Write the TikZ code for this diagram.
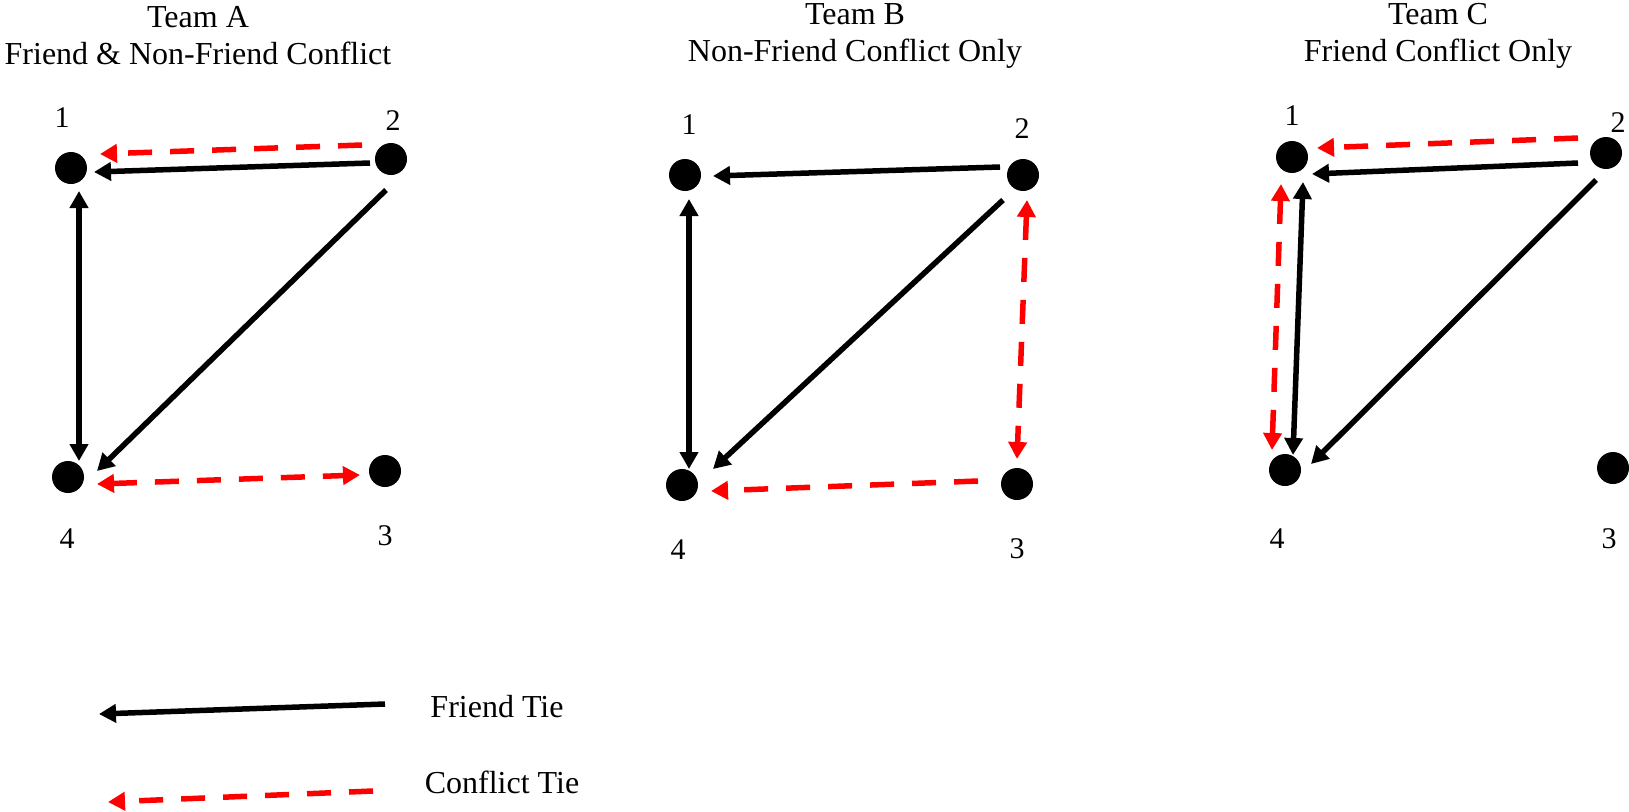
\documentclass[tikz,border=0pt]{standalone}
\usepackage{fontspec}
\setmainfont{Liberation Serif}
\usetikzlibrary{arrows.meta,shapes.geometric}
\begin{document}
\begin{tikzpicture}[x=1pt,y=-1pt,
  dot/.style={circle,fill=black,minimum size=32pt,inner sep=0pt},
  lbl/.style={font=\fontsize{30}{34}\selectfont,inner sep=0pt},
  ttl/.style={font=\fontsize{32}{37}\selectfont,align=center,inner sep=0pt},
  leg/.style={font=\fontsize{32}{36}\selectfont,inner sep=0pt},
  friend/.style={line width=5.5pt,black,-{Triangle[length=17pt,width=18pt]}},
  friendb/.style={line width=5.5pt,black,{Triangle[length=17pt,width=18pt]}-{Triangle[length=17pt,width=18pt]}},
  conflict/.style={line width=5.5pt,red,dash pattern=on 24pt off 18pt,-{Triangle[length=17pt,width=18pt]}},
  conflictb/.style={line width=5.5pt,red,dash pattern=on 24pt off 18pt,{Triangle[length=17pt,width=18pt]}-{Triangle[length=17pt,width=18pt]}}
]
\useasboundingbox (0,0) rectangle (1629,811);
\clip (0,0) rectangle (1629,811);
% Titles
\node[ttl] (tA) at (198,36) {Team A\\Friend \& Non-Friend Conflict};
\node[ttl] (tB) at (855,36) {Team B\\Non-Friend Conflict Only};
\node[ttl] (tC) at (1438,36) {Team C\\Friend Conflict Only};
% Team A
\node[dot] (A1) at (71,168) {};
\node[dot] (A2) at (391,159) {};
\node[dot] (A3) at (385,471) {};
\node[dot] (A4) at (68,477) {};
\node[lbl] (lA1) at (62,118) {1};
\node[lbl] (lA2) at (393,121) {2};
\node[lbl] (lA3) at (385,536) {3};
\node[lbl] (lA4) at (67,539) {4};
\draw[conflict] ([shift={(-29,-14)}]A2.center) -- ([shift={(29,-14)}]A1.center);
\draw[friend] ([shift={(-21,4)}]A2.center) -- ([shift={(23,4)}]A1.center);
\draw[friendb] ([shift={(8,23)}]A1.center) -- ([shift={(11,-16)}]A4.center);
\draw[friend] ([shift={(-5,31)}]A2.center) -- ([shift={(29,-6)}]A4.center);
\draw[conflictb] ([shift={(29,7)}]A4.center) -- ([shift={(-25,4)}]A3.center);
% Team B
\node[dot] (B1) at (685,175) {};
\node[dot] (B2) at (1023,175) {};
\node[dot] (B3) at (1017,484) {};
\node[dot] (B4) at (682,485) {};
\node[lbl] (lB1) at (689,125) {1};
\node[lbl] (lB2) at (1022,129) {2};
\node[lbl] (lB3) at (1017,549) {3};
\node[lbl] (lB4) at (678,550) {4};
\draw[friend] ([shift={(-23,-8)}]B2.center) -- ([shift={(28,1)}]B1.center);
\draw[friendb] ([shift={(4,24)}]B1.center) -- ([shift={(7,-16)}]B4.center);
\draw[friend] ([shift={(-20,25)}]B2.center) -- ([shift={(31,-16)}]B4.center);
\draw[conflictb] ([shift={(4,25)}]B2.center) -- ([shift={(0,-25)}]B3.center);
\draw[conflict] ([shift={(-39,-3)}]B3.center) -- ([shift={(29,6)}]B4.center);
% Team C
\node[dot] (C1) at (1292,157) {};
\node[dot] (C2) at (1606,153) {};
\node[dot] (C3) at (1613,468) {};
\node[dot] (C4) at (1285,470) {};
\node[lbl] (lC1) at (1292,116) {1};
\node[lbl] (lC2) at (1618,123) {2};
\node[lbl] (lC3) at (1609,539) {3};
\node[lbl] (lC4) at (1277,539) {4};
\draw[conflict] ([shift={(-28,-15)}]C2.center) -- ([shift={(25,-9)}]C1.center);
\draw[friend] ([shift={(-28,10)}]C2.center) -- ([shift={(20,17)}]C1.center);
\draw[friendb] ([shift={(11,25)}]C1.center) -- ([shift={(8,-15)}]C4.center);
\draw[conflictb] ([shift={(-11,27)}]C1.center) -- ([shift={(-13,-20)}]C4.center);
\draw[friend] ([shift={(-10,27)}]C2.center) -- ([shift={(26,-6)}]C4.center);
% Legend
\coordinate (fS) at (385,704);
\coordinate (fE) at (99,714);
\coordinate (cS) at (373,791);
\coordinate (cE) at (108,802);
\draw[friend] (fS) -- (fE);
\draw[conflict] (cS) -- (cE);
\node[leg] (lf) at (497,707) {Friend Tie};
\node[leg] (lc) at (502,782) {Conflict Tie};
\end{tikzpicture}
\end{document}
